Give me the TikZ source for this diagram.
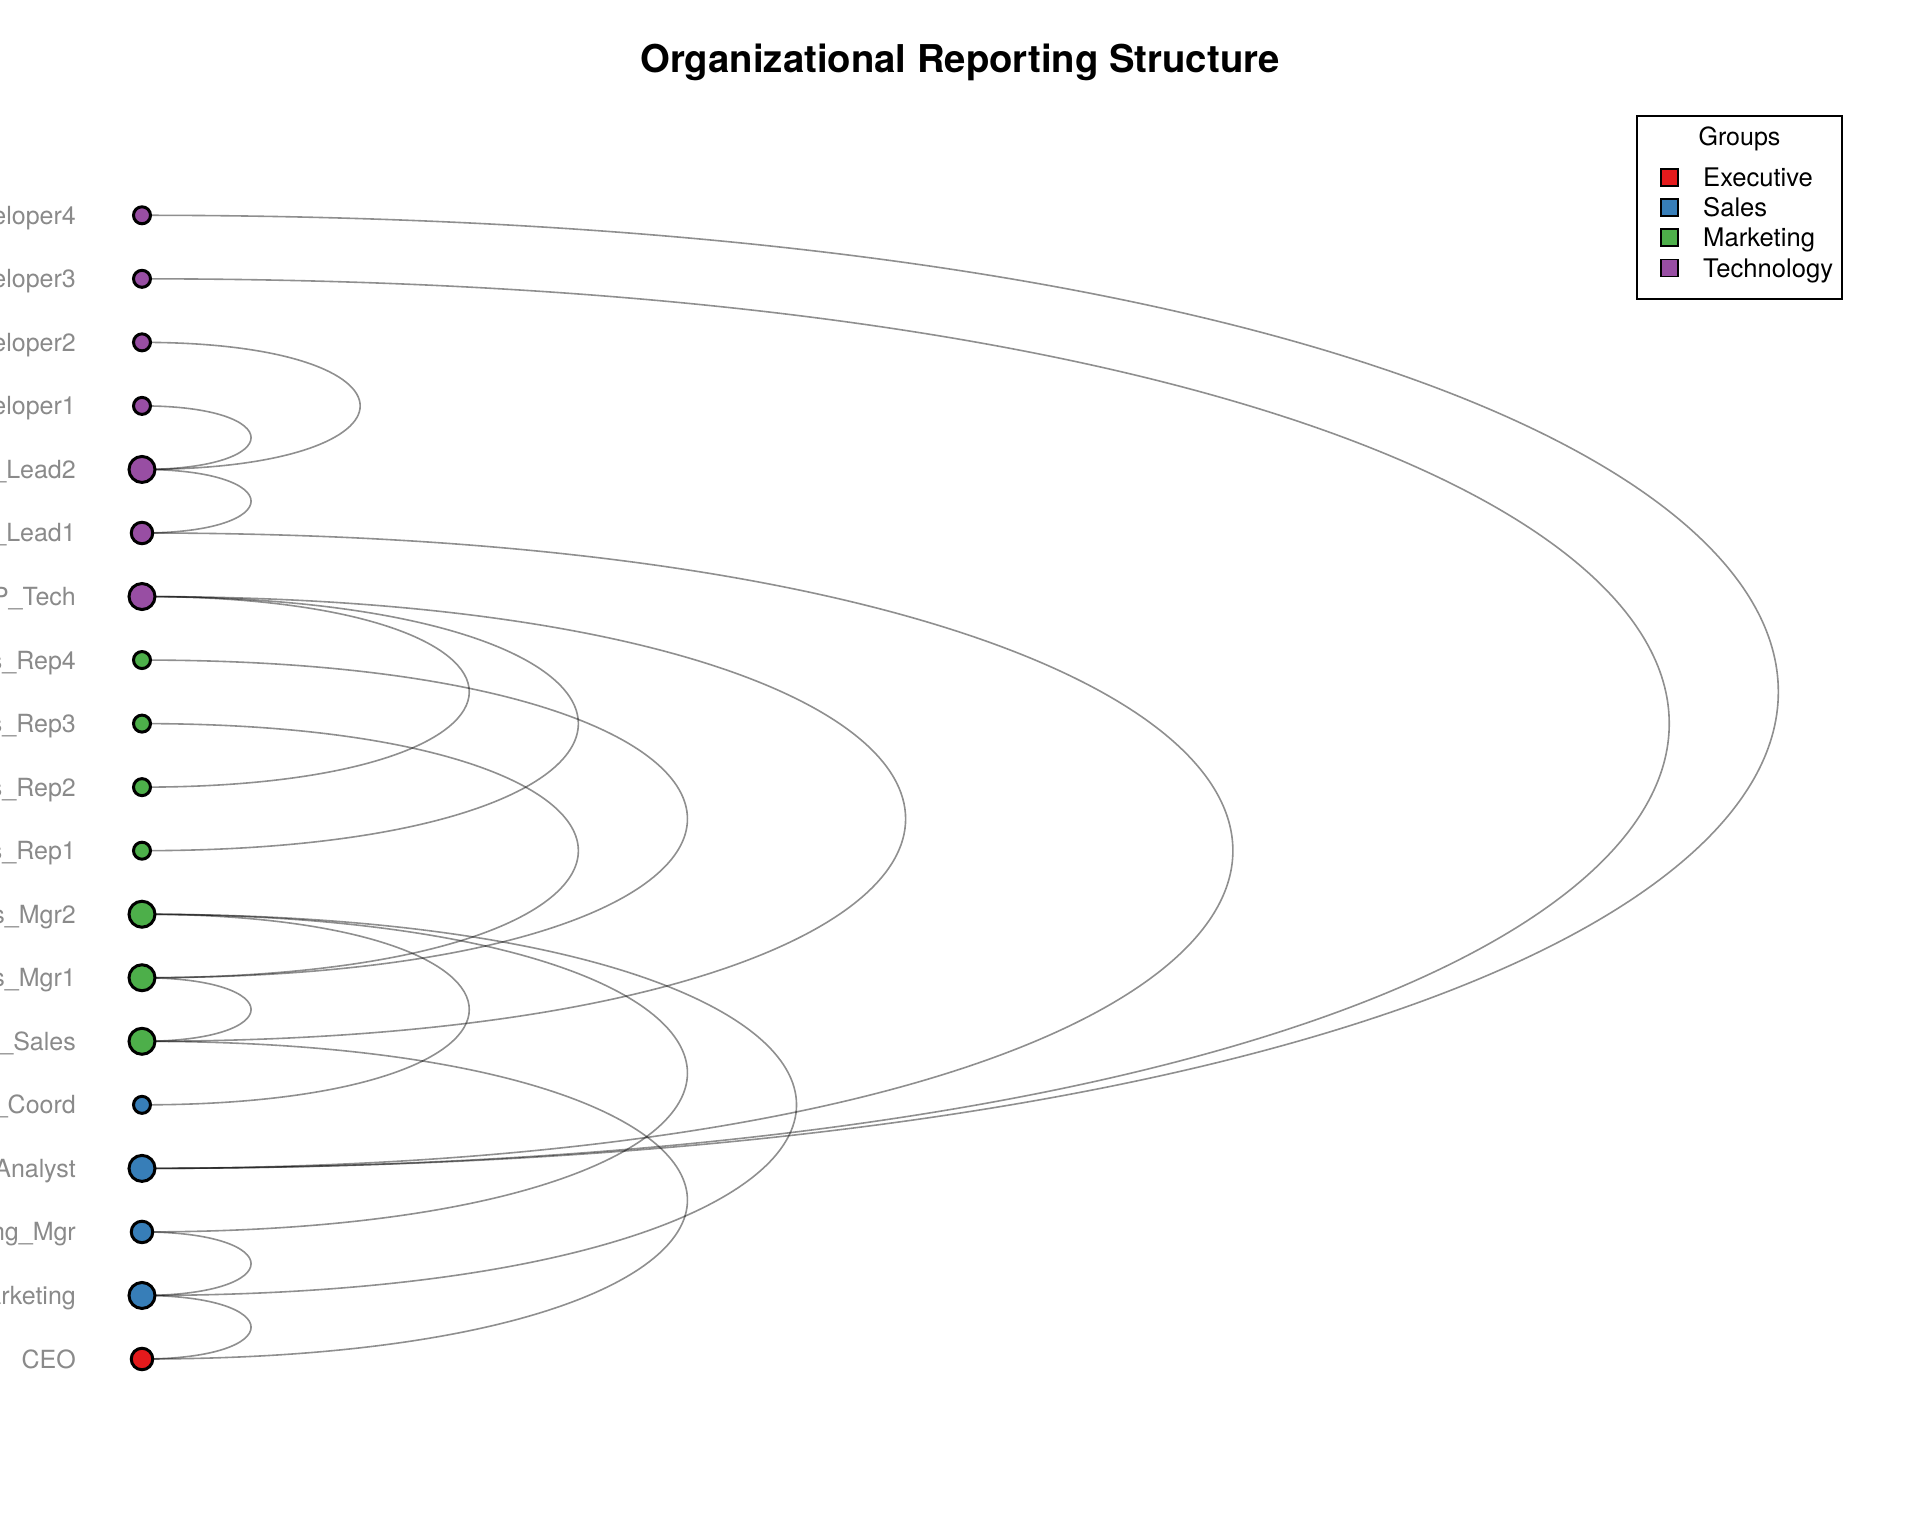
\documentclass[tikz,border=0pt]{standalone}
\usepackage{fontspec}
\setmainfont{TeX Gyre Heros}
\pgfdeclarelayer{bgfill}
\pgfdeclarelayer{edgelayer}
\pgfsetlayers{bgfill,edgelayer,main}
\definecolor{cExec}{HTML}{E41A1C}
\definecolor{cSales}{HTML}{377EB8}
\definecolor{cMkt}{HTML}{4DAF4A}
\definecolor{cTech}{HTML}{984EA3}
\definecolor{labelgray}{RGB}{138,138,138}
\tikzset{
  person/.style={circle, draw=black, line width=3pt, inner sep=0pt},
  nodesmall/.style={person, minimum size=17pt},
  nodemed/.style={person, minimum size=21.5pt},
  nodelarge/.style={person, minimum size=26pt},
  namelabel/.style={anchor=base east, text=labelgray, inner sep=0pt, font=\fontsize{25}{30}\selectfont},
  link/.style={draw=black, draw opacity=0.44, line width=1.6pt},
  arcto/.style={out=0, in=0, looseness=5.87},
  legsq/.style={draw=black, line width=1.3pt, minimum size=17pt, inner sep=0pt},
  legtext/.style={anchor=base west, inner sep=0pt, font=\fontsize{25.6}{30}\selectfont},
}
\begin{document}
\begin{tikzpicture}[x=1pt, y=1pt]
\useasboundingbox (0,0) rectangle (1920,1536);
\begin{pgfonlayer}{bgfill}
  \fill[white] (0,0) rectangle (1920,1536);
\end{pgfonlayer}
\clip (0,0) rectangle (1920,1536);

% title
\node[anchor=base, inner sep=0pt, font=\bfseries\fontsize{38.3}{46}\selectfont] (title) at (960,1463.5) {Organizational Reporting Structure};

% nodes
\node[nodesmall, fill=cTech] (dev4) at (142,1320.70) {};
\node[nodesmall, fill=cTech] (dev3) at (142,1257.16) {};
\node[nodesmall, fill=cTech] (dev2) at (142,1193.62) {};
\node[nodesmall, fill=cTech] (dev1) at (142,1130.08) {};
\node[nodelarge, fill=cTech] (lead2) at (142,1066.54) {};
\node[nodemed, fill=cTech] (lead1) at (142,1003.00) {};
\node[nodelarge, fill=cTech] (vptech) at (142,939.46) {};
\node[nodesmall, fill=cMkt] (rep4) at (142,875.92) {};
\node[nodesmall, fill=cMkt] (rep3) at (142,812.38) {};
\node[nodesmall, fill=cMkt] (rep2) at (142,748.84) {};
\node[nodesmall, fill=cMkt] (rep1) at (142,685.30) {};
\node[nodelarge, fill=cMkt] (mgr2) at (142,621.76) {};
\node[nodelarge, fill=cMkt] (mgr1) at (142,558.22) {};
\node[nodelarge, fill=cMkt] (vpsales) at (142,494.68) {};
\node[nodesmall, fill=cSales] (coord) at (142,431.14) {};
\node[nodelarge, fill=cSales] (analyst) at (142,367.60) {};
\node[nodemed, fill=cSales] (mktmgr) at (142,304.06) {};
\node[nodelarge, fill=cSales] (vpmkt) at (142,240.52) {};
\node[nodemed, fill=cExec] (ceo) at (142,176.98) {};

% labels (baseline = node y - 9.0)
\node[namelabel] (ldev4) at (76,1311.70) {Developer4};
\node[namelabel] (ldev3) at (76,1248.16) {Developer3};
\node[namelabel] (ldev2) at (76,1184.62) {Developer2};
\node[namelabel] (ldev1) at (76,1121.08) {Developer1};
\node[namelabel] (llead2) at (76,1057.54) {Tech\_Lead2};
\node[namelabel] (llead1) at (76,994.00) {Tech\_Lead1};
\node[namelabel] (lvptech) at (76,930.46) {VP\_Tech};
\node[namelabel] (lrep4) at (76,866.92) {Sales\_Rep4};
\node[namelabel] (lrep3) at (76,803.38) {Sales\_Rep3};
\node[namelabel] (lrep2) at (76,739.84) {Sales\_Rep2};
\node[namelabel] (lrep1) at (76,676.30) {Sales\_Rep1};
\node[namelabel] (lmgr2) at (76,612.76) {Sales\_Mgr2};
\node[namelabel] (lmgr1) at (76,549.22) {Sales\_Mgr1};
\node[namelabel] (lvpsales) at (76,485.68) {VP\_Sales};
\node[namelabel] (lcoord) at (76,422.14) {Marketing\_Coord};
\node[namelabel] (lanalyst) at (76,358.60) {Marketing\_Analyst};
\node[namelabel] (lmktmgr) at (76,295.06) {Marketing\_Mgr};
\node[namelabel] (lvpmkt) at (76,231.52) {VP\_Marketing};
\node[namelabel] (lceo) at (76,167.98) {CEO};

% edges
\begin{pgfonlayer}{edgelayer}
\draw[link] (dev4.center) to[arcto] (analyst.center);
\draw[link] (dev3.center) to[arcto] (analyst.center);
\draw[link] (dev2.center) to[arcto] (lead2.center);
\draw[link] (dev1.center) to[arcto] (lead2.center);
\draw[link] (lead2.center) to[arcto] (lead1.center);
\draw[link] (lead1.center) to[arcto] (analyst.center);
\draw[link] (vptech.center) to[arcto] (rep2.center);
\draw[link] (vptech.center) to[arcto] (rep1.center);
\draw[link] (vptech.center) to[arcto] (vpsales.center);
\draw[link] (rep4.center) to[arcto] (mgr1.center);
\draw[link] (rep3.center) to[arcto] (mgr1.center);
\draw[link] (mgr2.center) to[arcto] (coord.center);
\draw[link] (mgr2.center) to[arcto] (mktmgr.center);
\draw[link] (mgr2.center) to[arcto] (vpmkt.center);
\draw[link] (mgr1.center) to[arcto] (vpsales.center);
\draw[link] (vpsales.center) to[arcto] (ceo.center);
\draw[link] (mktmgr.center) to[arcto] (vpmkt.center);
\draw[link] (vpmkt.center) to[arcto] (ceo.center);
\end{pgfonlayer}

% legend
\node[draw=black, line width=1.3pt, minimum width=205pt, minimum height=183pt, inner sep=0pt] (legbox) at (1739.5,1328.5) {};
\node[anchor=base, inner sep=0pt, font=\fontsize{25}{30}\selectfont] (legtitle) at (1739.5,1390.0) {Groups};
\node[legsq, fill=cExec] (sq1) at (1669.5,1358.5) {};
\node[legsq, fill=cSales] (sq2) at (1669.5,1328.5) {};
\node[legsq, fill=cMkt] (sq3) at (1669.5,1298.5) {};
\node[legsq, fill=cTech] (sq4) at (1669.5,1268.0) {};
\node[legtext] (lt1) at (1703,1349.3) {Executive};
\node[legtext] (lt2) at (1703,1319.3) {Sales};
\node[legtext] (lt3) at (1703,1289.3) {Marketing};
\node[legtext] (lt4) at (1703,1258.8) {Technology};
\end{tikzpicture}
\end{document}
